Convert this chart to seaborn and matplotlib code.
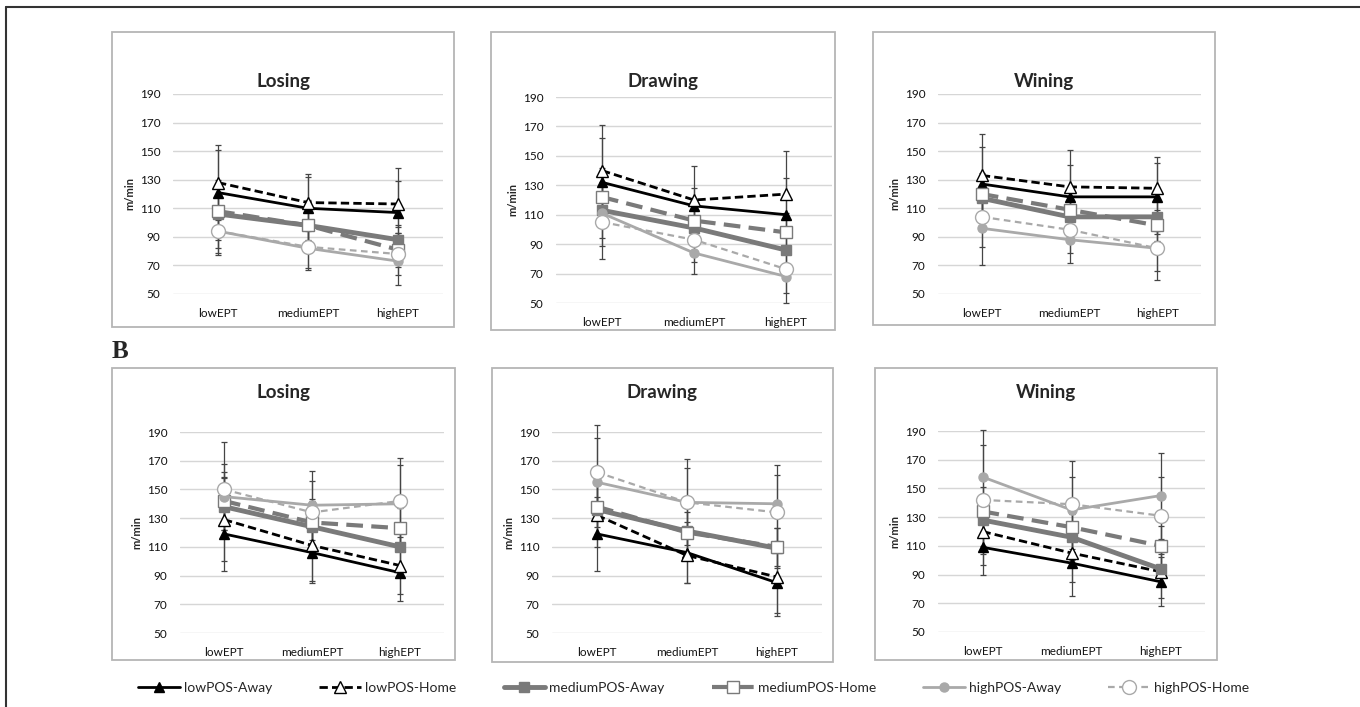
import numpy as np
import pandas as pd
import seaborn as sns
import matplotlib.pyplot as plt
from matplotlib.lines import Line2D
from matplotlib.patches import Rectangle

# categories / series
categories = ["lowEPT", "mediumEPT", "highEPT"]
conditions = ["Losing", "Drawing", "Wining"]
series = ["lowPOS-Away", "lowPOS-Home", "mediumPOS-Away",
          "mediumPOS-Home", "highPOS-Away", "highPOS-Home"]

# means (rows follow `series`, columns follow `categories`)
A_losing = [[121, 110, 107], [128, 114, 113], [106, 98, 88],
            [108, 98, 81], [94, 82, 73], [94, 83, 78]]
A_drawing = [[132, 116, 110], [140, 120, 124], [113, 101, 86],
             [122, 106, 98], [111, 84, 68], [105, 93, 73]]
A_wining = [[127, 118, 118], [133, 125, 124], [117, 104, 104],
            [120, 109, 98], [96, 88, 82], [104, 95, 82]]
B_losing = [[119, 106, 92], [129, 111, 97], [138, 124, 110],
            [142, 127, 123], [145, 139, 140], [150, 134, 142]]
B_drawing = [[119, 106, 85], [132, 104, 89], [136, 121, 109],
             [138, 120, 110], [155, 141, 140], [162, 141, 134]]
B_wining = [[109, 98, 85], [120, 105, 92], [128, 116, 94],
            [134, 123, 110], [158, 135, 145], [142, 139, 131]]

# standard deviations for the error bars
A_losing_sd = [[30, 22, 31], [26, 20, 16], [24, 18, 10],
               [20, 16, 12], [17, 15, 17], [15, 15, 15]]
A_drawing_sd = [[30, 12, 25], [31, 23, 29], [19, 12, 12],
                [18, 14, 13], [31, 14, 18], [16, 15, 16]]
A_wining_sd = [[26, 22, 24], [29, 26, 22], [16, 14, 12],
               [15, 13, 11], [26, 16, 22], [21, 16, 16]]
B_losing_sd = [[26, 21, 20], [29, 25, 20], [21, 18, 13],
               [20, 16, 14], [23, 24, 27], [33, 22, 30]]
B_drawing_sd = [[26, 21, 23], [22, 19, 25], [20, 16, 14],
                [19, 14, 13], [31, 30, 27], [33, 24, 26]]
B_wining_sd = [[19, 23, 17], [23, 20, 18], [18, 16, 12],
               [17, 15, 14], [33, 34, 30], [38, 19, 27]]

yticks = [50, 70, 90, 110, 130, 150, 170, 190]

panels = [
    ("A", "Losing", A_losing, A_losing_sd),
    ("A", "Drawing", A_drawing, A_drawing_sd),
    ("A", "Wining", A_wining, A_wining_sd),
    ("B", "Losing", B_losing, B_losing_sd),
    ("B", "Drawing", B_drawing, B_drawing_sd),
    ("B", "Wining", B_wining, B_wining_sd),
]

rows = []
for part, cond, means, sds in panels:
    for s, m_row, sd_row in zip(series, means, sds):
        for c, m, sd in zip(categories, m_row, sd_row):
            rows.append(dict(part=part, condition=cond, series=s,
                             ept=c, speed=m, sd=sd))
df = pd.DataFrame(rows)

# line styles per series
DARK = "#000000"
MID = "#7a7a7a"
LIGHT = "#a9a9a9"
styles = {
    "lowPOS-Away": dict(color=DARK, ls="-", lw=2.0, marker="^", ms=7.5, mfc=DARK, mec=DARK),
    "lowPOS-Home": dict(color=DARK, ls=(0, (3, 1.5)), lw=2.0, marker="^", ms=8, mfc="white", mec=DARK),
    "mediumPOS-Away": dict(color=MID, ls="-", lw=3.5, marker="s", ms=7, mfc=MID, mec=MID),
    "mediumPOS-Home": dict(color=MID, ls=(0, (4, 2)), lw=3.0, marker="s", ms=8, mfc="white", mec=MID),
    "highPOS-Away": dict(color=LIGHT, ls="-", lw=2.0, marker="o", ms=6.5, mfc=LIGHT, mec=LIGHT),
    "highPOS-Home": dict(color=LIGHT, ls=(0, (3, 2)), lw=1.6, marker="o", ms=10, mfc="white", mec=LIGHT),
}

sns.set_style("white")
plt.rcParams["font.family"] = ["Lato", "DejaVu Sans"]

W, H = 1360, 707
fig = plt.figure(figsize=(W / 100, H / 100), dpi=100)


def fx(px):
    return px / W


def fy(py):
    return 1 - py / H


# pixel layout: (axes x0, x1, y of 190, y of 50), (box x0, x1, y0, y1)
layout = [
    ((173, 443, 94, 294), (112, 454, 32, 327)),
    ((556, 832, 97, 303), (491, 835, 32, 330)),
    ((938, 1201, 94, 294), (873, 1215, 32, 325)),
    ((180, 444, 432, 633), (112, 455, 368, 660)),
    ((552, 822, 432, 633), (492, 833, 368, 662)),
    ((938, 1205, 431, 632), (875, 1217, 368, 660)),
]
title_y = [82, 82, 82, 392, 392, 392]

for (part, cond, _, _), (arect, brect), ty in zip(panels, layout, title_y):
    x0, x1, yt, yb = arect
    ax = fig.add_axes([fx(x0), fy(yb), fx(x1 - x0), (yb - yt) / H])
    bx0, bx1, by0, by1 = brect
    fig.add_artist(Rectangle((fx(bx0), fy(by1)), fx(bx1 - bx0), (by1 - by0) / H,
                             transform=fig.transFigure, fill=False,
                             edgecolor="#b5b5b5", lw=1.3))
    fig.text(fx((bx0 + bx1) / 2), fy(ty), cond, ha="center", va="center",
             fontsize=13.5, fontweight="bold")

    sub = df[(df.part == part) & (df.condition == cond)]
    for s in series:
        d = sub[sub.series == s]
        st = styles[s]
        ax.errorbar(d["ept"], d["speed"], yerr=d["sd"], fmt="none",
                    ecolor="#454545", elinewidth=0.9, capsize=2.5,
                    capthick=0.9, zorder=2, clip_on=False)
        sns.lineplot(data=d, x="ept", y="speed", ax=ax, sort=False,
                     estimator=None, color=st["color"], linestyle=st["ls"],
                     linewidth=st["lw"], marker=st["marker"],
                     markersize=st["ms"], markerfacecolor=st["mfc"],
                     markeredgecolor=st["mec"], markeredgewidth=1.0,
                     zorder=3, legend=False)

    ax.set_xlim(-0.5, 2.5)
    ax.set_ylim(50, 190)
    ax.set_yticks(yticks)
    ax.yaxis.grid(True, color="#d6d6d6", lw=1.0)
    ax.set_axisbelow(True)
    for sp in ax.spines.values():
        sp.set_visible(False)
    ax.tick_params(axis="both", length=0, labelsize=8.5, colors="#111111")
    ax.tick_params(axis="y", pad=9)
    ax.tick_params(axis="x", pad=10)
    ax.set_xlabel("")
    ax.set_ylabel("m/min", fontsize=8, fontweight="bold", labelpad=3)

# panel label and outer frame
fig.text(fx(112), fy(352), "B", fontsize=18, fontweight="bold",
         family="Liberation Serif", ha="left", va="center")
fig.add_artist(Line2D([fx(6), fx(6)], [0, fy(7)], transform=fig.transFigure,
                      color="#333333", lw=1.5))
fig.add_artist(Line2D([fx(6), 1], [fy(7), fy(7)], transform=fig.transFigure,
                      color="#333333", lw=1.5))

handles = [Line2D([], [], color=styles[s]["color"], linestyle=styles[s]["ls"],
                  linewidth=styles[s]["lw"], marker=styles[s]["marker"],
                  markersize=styles[s]["ms"], markerfacecolor=styles[s]["mfc"],
                  markeredgecolor=styles[s]["mec"]) for s in series]
fig.legend(handles, series, ncol=6, loc="center", bbox_to_anchor=(0.51, fy(688)),
           frameon=False, fontsize=10, handlelength=3.0, columnspacing=3.4,
           handletextpad=0.3)

fig.savefig("out.png", dpi=100)
